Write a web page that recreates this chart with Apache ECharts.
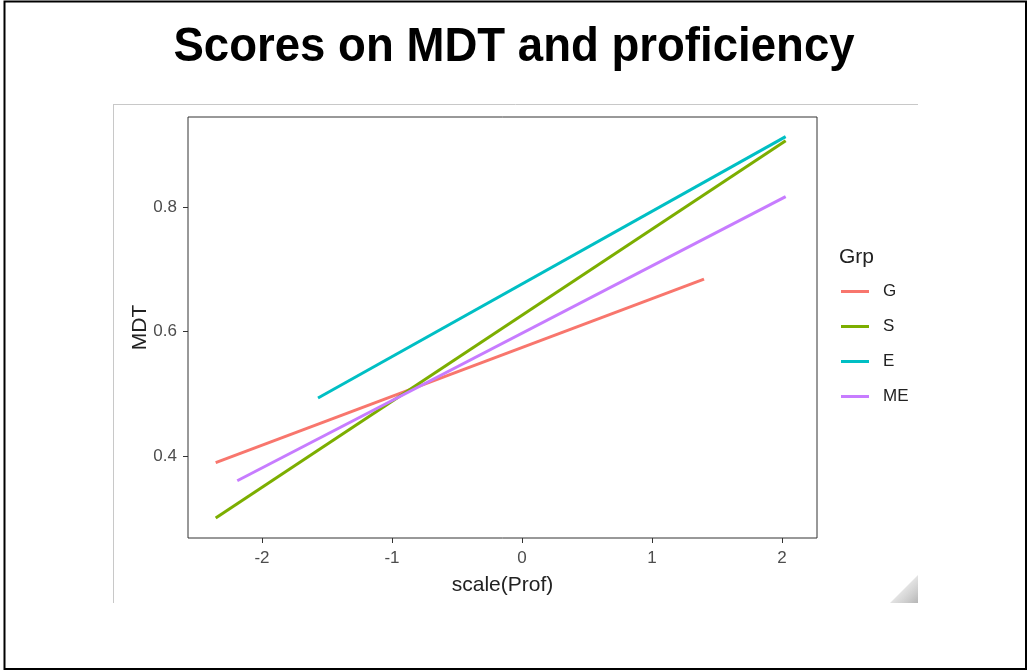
<!DOCTYPE html>
<html>
<head>
<meta charset="utf-8">
<script src="https://cdn.jsdelivr.net/npm/echarts@6/dist/echarts.min.js"></script>
<style>
html,body{margin:0;padding:0;background:#fff;}
#chart{width:1028px;height:671px;}
</style>
</head>
<body>
<div id="chart"></div>
<script>
// ---- data ----
const groups = ['G', 'S', 'E', 'ME'];
const colors = ['#F8766D', '#7CAE00', '#00BFC4', '#C77CFF'];
const gX = [-2.356, 1.40];   const gY = [0.389, 0.684];
const sX = [-2.356, 2.028];  const sY = [0.300, 0.9065];
const eX = [-1.569, 2.028];  const eY = [0.493, 0.913];
const meX = [-2.19, 2.028];  const meY = [0.360, 0.8166];
const xTicks = [-2, -1, 0, 1, 2];
const yTicks = [0.4, 0.6, 0.8];
const titleText = 'Scores on MDT and proficiency';
const xName = 'scale(Prof)';
const yName = 'MDT';
const legendTitle = 'Grp';

const seriesXY = [[gX, gY], [sX, sY], [eX, eY], [meX, meY]];
const FONT = "'Liberation Sans', Arial, sans-serif";

const chart = echarts.init(document.getElementById('chart'), null, {renderer: 'canvas'});
const option = {
  animation: false,
  backgroundColor: '#fff',
  grid: {
    left: 188, top: 117, width: 629, height: 421,
    show: true, borderColor: '#333', borderWidth: 1, backgroundColor: 'transparent'
  },
  xAxis: {
    type: 'value', min: -2.569, max: 2.269, position: 'bottom',
    name: xName, nameLocation: 'middle', nameGap: 37, nameMoveOverlap: false,
    nameTextStyle: {fontFamily: FONT, fontSize: 21, color: '#222'},
    axisLine: {show: false, onZero: false},
    splitLine: {show: false},
    axisTick: {show: true, customValues: xTicks, length: 5, lineStyle: {color: '#333', width: 1}},
    axisLabel: {customValues: xTicks, margin: 12, fontFamily: FONT, fontSize: 17, color: '#4D4D4D',
      formatter: v => String(v)}
  },
  yAxis: {
    type: 'value', min: 0.268, max: 0.9446, position: 'left',
    name: yName, nameLocation: 'middle', nameGap: 37, nameRotate: 90, nameMoveOverlap: false,
    nameTextStyle: {fontFamily: FONT, fontSize: 21, color: '#222'},
    axisLine: {show: false, onZero: false},
    splitLine: {show: false},
    axisTick: {show: true, customValues: yTicks, length: 5, lineStyle: {color: '#333', width: 1}},
    axisLabel: {customValues: yTicks, margin: 11, fontFamily: FONT, fontSize: 17, color: '#4D4D4D',
      formatter: v => v.toFixed(1)}
  },
  legend: {
    data: groups, orient: 'vertical', left: 841, top: 283, padding: 0,
    icon: 'rect', itemWidth: 28, itemHeight: 3, itemGap: 18,
    textStyle: {fontFamily: FONT, fontSize: 17, color: '#222', padding: [0, 0, 0, 9]}
  },
  series: groups.map((g, i) => ({
    name: g, type: 'line', showSymbol: false, symbol: 'none',
    data: seriesXY[i][0].map((x, j) => [x, seriesXY[i][1][j]]),
    lineStyle: {color: colors[i], width: 3},
    itemStyle: {color: colors[i]}
  })),
  graphic: [
    {type: 'rect', shape: {x: 4.5, y: 1.5, width: 1021.5, height: 667.5},
     style: {fill: 'none', stroke: '#000', lineWidth: 2}, silent: true},
    {type: 'line', shape: {x1: 113, y1: 104.5, x2: 918, y2: 104.5},
     style: {stroke: '#c8c8c8', lineWidth: 1}, silent: true},
    {type: 'line', shape: {x1: 113.5, y1: 104, x2: 113.5, y2: 603},
     style: {stroke: '#c8c8c8', lineWidth: 1}, silent: true},
    {type: 'polygon', shape: {points: [[918, 575], [918, 603], [890, 603]]},
     style: {fill: {type: 'linear', x: 0, y: 0, x2: 1, y2: 1,
       colorStops: [{offset: 0, color: 'rgba(200,200,200,0)'}, {offset: 1, color: 'rgba(150,150,150,0.7)'}]}},
     silent: true},
    {type: 'text', x: 514, y: 47, scaleX: 0.93, originX: 0, originY: 0,
     style: {text: titleText, font: "bold 49px 'Liberation Sans', Arial, sans-serif",
       fill: '#000', textAlign: 'center', textVerticalAlign: 'middle'}, silent: true},
    {type: 'text', x: 839, y: 257,
     style: {text: legendTitle, font: "21px 'Liberation Sans', Arial, sans-serif",
       fill: '#222', textAlign: 'left', textVerticalAlign: 'middle'}, silent: true}
  ]
};
chart.setOption(option);
</script>
</body>
</html>
